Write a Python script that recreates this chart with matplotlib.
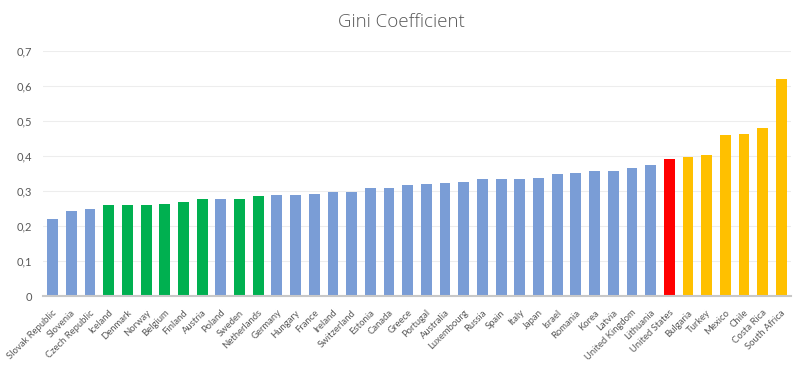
import matplotlib.pyplot as plt
import numpy as np

countries = ['Slovak Republic', 'Slovenia', 'Czech Republic', 'Iceland', 'Denmark', 'Norway',
             'Belgium', 'Finland', 'Austria', 'Poland', 'Sweden', 'Netherlands', 'Germany',
             'Hungary', 'France', 'Ireland', 'Switzerland', 'Estonia', 'Canada', 'Greece',
             'Portugal', 'Australia', 'Luxembourg', 'Russia', 'Spain', 'Italy', 'Japan',
             'Israel', 'Romania', 'Korea', 'Latvia', 'United Kingdom', 'Lithuania',
             'United States', 'Bulgaria', 'Turkey', 'Mexico', 'Chile', 'Costa Rica', 'South Africa']
gini = [0.221, 0.244, 0.250, 0.259, 0.261, 0.261, 0.264, 0.270, 0.276, 0.276, 0.276, 0.287,
        0.290, 0.290, 0.293, 0.296, 0.298, 0.310, 0.310, 0.318, 0.321, 0.324, 0.327, 0.333,
        0.333, 0.335, 0.338, 0.349, 0.352, 0.356, 0.356, 0.367, 0.373, 0.392, 0.396, 0.404,
        0.460, 0.462, 0.480, 0.620]
groups = ['b', 'b', 'b', 'g', 'g', 'g', 'g', 'g', 'g', 'b', 'g', 'g', 'b', 'b', 'b', 'b',
          'b', 'b', 'b', 'b', 'b', 'b', 'b', 'b', 'b', 'b', 'b', 'b', 'b', 'b', 'b', 'b',
          'b', 'r', 'y', 'y', 'y', 'y', 'y', 'y']

palette = {'b': '#7A9DD6', 'g': '#00B050', 'r': '#FF0000', 'y': '#FFC000'}
colors = [palette[g] for g in groups]

fig = plt.figure(figsize=(8.02, 3.72), dpi=100)
ax = fig.add_axes([0.054, 0.204, 0.932, 0.659])

x = np.arange(len(countries))
ax.bar(x, gini, width=0.58, color=colors, zorder=3)

ax.set_xlim(-0.5, len(countries) - 0.5)
ax.set_ylim(0, 0.7)
yt = np.arange(0, 0.71, 0.1)
ax.set_yticks(yt)
ax.set_yticklabels(['0' if v == 0 else f'{v:.1f}'.replace('.', ',') for v in yt],
                   fontfamily='Lato')
ax.grid(axis='y', color='#EDEDED', linewidth=0.8, zorder=0)

for s in ['top', 'right', 'left']:
    ax.spines[s].set_visible(False)
ax.spines['bottom'].set_color('#C8C8C8')
ax.spines['bottom'].set_linewidth(1.5)
ax.spines['bottom'].set_zorder(4)

ax.set_xticks(x + 0.15)
ax.set_xticklabels(countries, rotation=45, ha='right', va='center', rotation_mode='anchor',
                   fontsize=6.8, color='#595959', fontfamily='Lato')
ax.tick_params(axis='x', length=0, pad=11)
ax.tick_params(axis='y', length=0, pad=8, labelsize=8, labelcolor='#595959')

fig.suptitle('Gini Coefficient', x=0.5, y=0.965, fontsize=13.5, color='#595959',
             fontfamily='Open Sans', fontweight='light')

plt.savefig('out.png', dpi=100)
